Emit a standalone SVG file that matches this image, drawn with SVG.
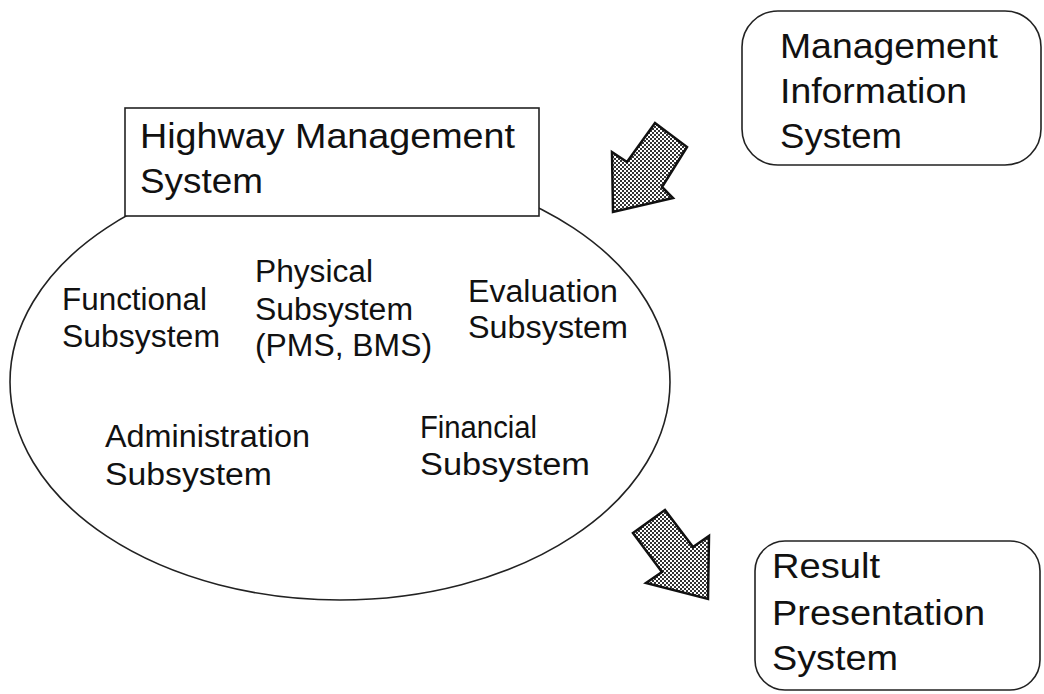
<svg xmlns="http://www.w3.org/2000/svg" width="1044" height="694" viewBox="0 0 1044 694">
<defs>
<pattern id="dots" width="4" height="4" patternUnits="userSpaceOnUse">
<rect width="4" height="4" fill="#ffffff"/>
<rect x="0" y="0" width="2" height="2" fill="#333"/>
<rect x="2" y="2" width="2" height="2" fill="#333"/>
</pattern>
</defs>
<style>
.t{font-family:"Liberation Sans",Arial,sans-serif;fill:#111;}
.big{font-size:35px;}
.sm{font-size:31px;}
.box{fill:#fff;stroke:#222;stroke-width:1.6;}
.arrow{fill:url(#dots);stroke:#111;stroke-width:2.5;stroke-linejoin:miter;}
</style>
<rect width="1044" height="694" fill="#fff"/>

<g id="hms-ellipse">
<ellipse cx="340" cy="382" rx="330" ry="218" fill="none" stroke="#222" stroke-width="1.6"/>
</g>

<g id="hms-title">
<rect class="box" x="125" y="108" width="414" height="108"/>
<text class="t big" x="140" y="148" textLength="375" lengthAdjust="spacingAndGlyphs">Highway Management</text>
<text class="t big" x="140" y="193" textLength="123" lengthAdjust="spacingAndGlyphs">System</text>
</g>

<g id="functional">
<text class="t sm" x="62" y="310" textLength="145" lengthAdjust="spacingAndGlyphs">Functional</text>
<text class="t sm" x="62" y="347" textLength="158" lengthAdjust="spacingAndGlyphs">Subsystem</text>
</g>

<g id="physical">
<text class="t sm" x="255" y="282" textLength="118" lengthAdjust="spacingAndGlyphs">Physical</text>
<text class="t sm" x="255" y="320" textLength="158" lengthAdjust="spacingAndGlyphs">Subsystem</text>
<text class="t sm" x="255" y="356" textLength="177" lengthAdjust="spacingAndGlyphs">(PMS, BMS)</text>
</g>

<g id="evaluation">
<text class="t sm" x="468" y="302" textLength="150" lengthAdjust="spacingAndGlyphs">Evaluation</text>
<text class="t sm" x="468" y="338" textLength="160" lengthAdjust="spacingAndGlyphs">Subsystem</text>
</g>

<g id="administration">
<text class="t sm" x="105" y="447" textLength="205" lengthAdjust="spacingAndGlyphs">Administration</text>
<text class="t sm" x="105" y="485" textLength="167" lengthAdjust="spacingAndGlyphs">Subsystem</text>
</g>

<g id="financial">
<text class="t sm" x="420" y="438" textLength="117" lengthAdjust="spacingAndGlyphs">Financial</text>
<text class="t sm" x="420" y="475" textLength="170" lengthAdjust="spacingAndGlyphs">Subsystem</text>
</g>

<g id="mis">
<rect class="box" x="742" y="11" width="299" height="154" rx="36" ry="36"/>
<text class="t big" x="780" y="58" textLength="218" lengthAdjust="spacingAndGlyphs">Management</text>
<text class="t big" x="780" y="103" textLength="187" lengthAdjust="spacingAndGlyphs">Information</text>
<text class="t big" x="780" y="148" textLength="122" lengthAdjust="spacingAndGlyphs">System</text>
</g>

<g id="rps">
<rect class="box" x="755" y="541" width="285" height="149" rx="30" ry="30"/>
<text class="t big" x="772" y="578" textLength="108" lengthAdjust="spacingAndGlyphs">Result</text>
<text class="t big" x="772" y="625" textLength="213" lengthAdjust="spacingAndGlyphs">Presentation</text>
<text class="t big" x="772" y="670" textLength="126" lengthAdjust="spacingAndGlyphs">System</text>
</g>

<g id="connectors">
<polygon class="arrow" points="613,212 612,152 627,162 655,123 687,147 662,187 673,198"/>
<polygon class="arrow" points="633,533 665,510 693,547 709,536 708,599 646,583 662,572"/>
</g>
</svg>
